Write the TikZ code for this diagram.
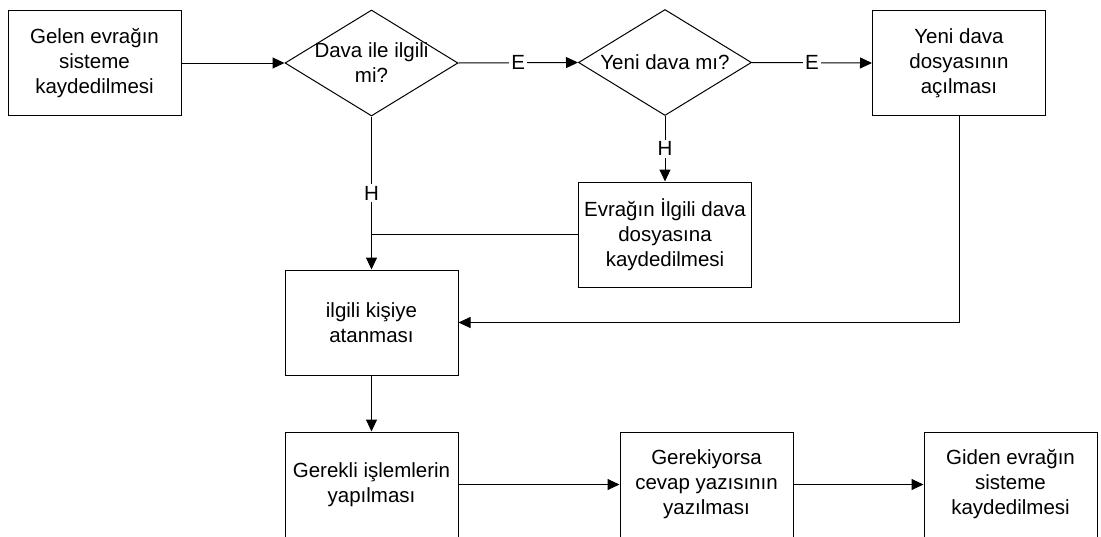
\documentclass[tikz,border=0pt]{standalone}
\usepackage{fontspec}
\setmainfont{Liberation Sans}
\usetikzlibrary{shapes.geometric,arrows.meta}
\begin{document}
\begin{tikzpicture}[x=1pt,y=-1pt,
  font=\fontsize{20.5}{25}\selectfont,
  proc/.style={draw, line width=1pt, minimum width=173pt, minimum height=105pt,
               align=center, inner sep=0pt},
  decision/.style={draw, diamond, line width=1pt, minimum width=173pt,
                   minimum height=106pt, inner sep=0pt},
  txt/.style={align=center, inner sep=0pt},
  flow/.style={line width=1pt, -{Triangle[length=12pt,width=11pt]}},
  joinline/.style={line width=1pt},
  lbl/.style={fill=white, inner sep=2pt}]
\useasboundingbox (0,0) rectangle (1101,536);

% process boxes and decisions
\node[proc] (gelen) at (94.5,63) {Gelen evrağın\\sisteme\\kaydedilmesi};
\node[decision] (ilgili) at (371.5,63) {};
\node[txt] at (ilgili) {Dava ile ilgili\\mi?};
\node[decision] (yeni) at (665,62.5) {};
\node[txt] at (yeni) {Yeni dava mı?};
\node[proc] (acilis) at (959,63) {Yeni dava\\dosyasının\\açılması};
\node[proc] (kayit) at (665,234.5) {Evrağın İlgili dava\\dosyasına\\kaydedilmesi};
\node[proc] (atama) at (371.5,322.5) {ilgili kişiye\\atanması};
\node[proc] (islem) at (371.5,484.5) {Gerekli işlemlerin\\yapılması};
\node[proc] (cevap) at (706.5,484.5) {Gerekiyorsa\\cevap yazısının\\yazılması};
\node[proc] (giden) at (1010.5,484.5) {Giden evrağın\\sisteme\\kaydedilmesi};

% connectors
\draw[flow] (gelen.east) -- (ilgili.west);
\draw[flow] (ilgili.east) -- node[lbl] {E} (yeni.west);
\draw[flow] (yeni.east) -- node[lbl] {E} (acilis.west);
\draw[flow] (yeni.south) -- node[lbl] {H} (kayit.north);
\draw[flow] (ilgili.south) -- node[lbl] {H} (atama.north);
\coordinate (merge) at (ilgili.south |- kayit.west);
\draw[joinline] (kayit.west) -- (merge);
\draw[flow] (acilis.south) |- (atama.east);
\draw[flow] (atama.south) -- (islem.north);
\draw[flow] (islem.east) -- (cevap.west);
\draw[flow] (cevap.east) -- (giden.west);
\end{tikzpicture}
\end{document}
